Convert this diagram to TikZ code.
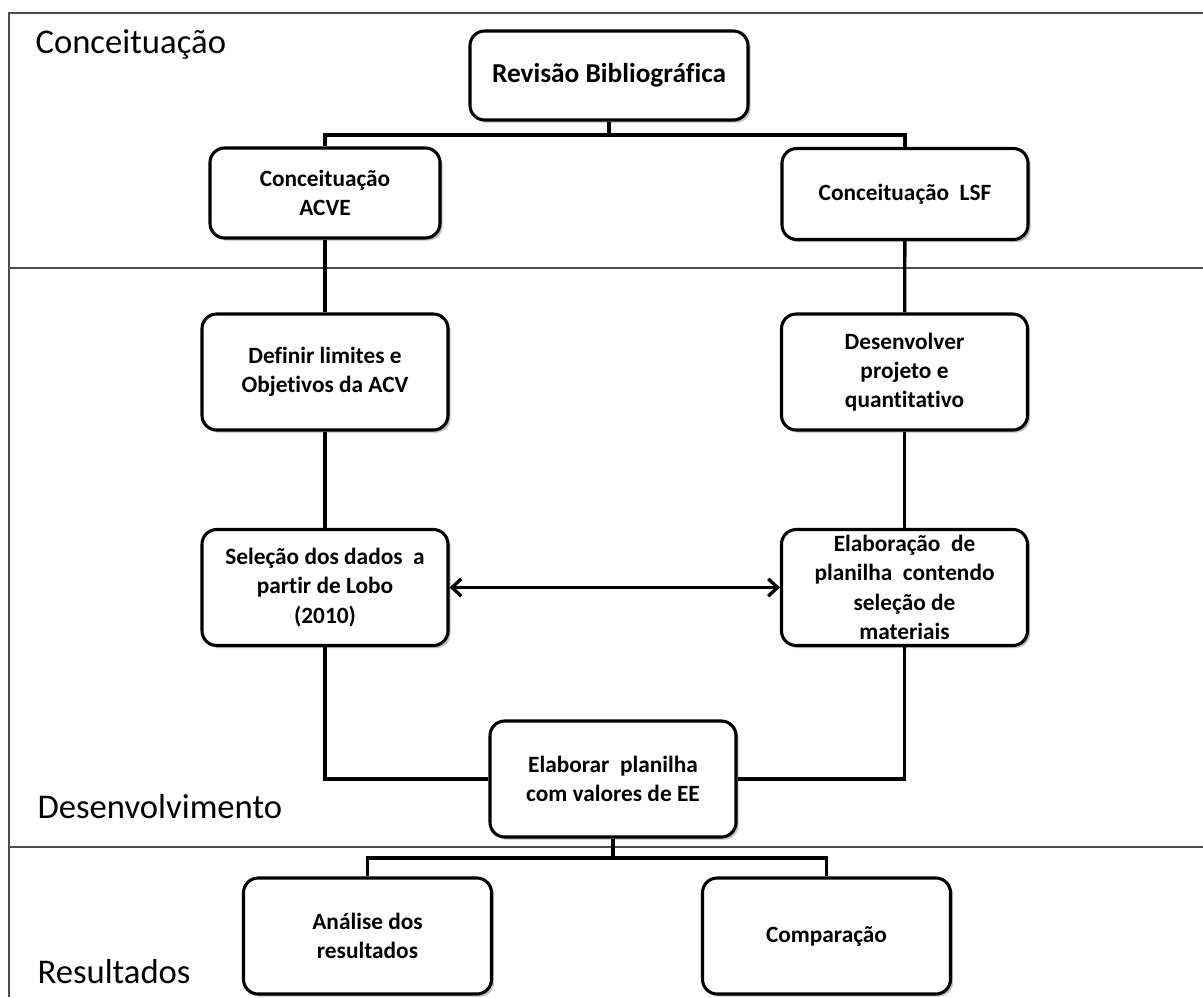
\documentclass[tikz,border=0pt]{standalone}
\usepackage{fontspec}
\setmainfont{Carlito}[Ligatures=NoCommon]
\usetikzlibrary{arrows.meta, positioning, shadows}

\begin{document}
\begin{tikzpicture}[x=0.75pt, y=-0.75pt, thick,
    etapa/.style={draw, line width=2.3pt, rounded corners=11pt, fill=white,
      align=center, inner sep=0pt, minimum width=184.5pt, minimum height=87pt,
      font=\bfseries\fontsize{17.5}{22}\selectfont,
      drop shadow={shadow xshift=2pt, shadow yshift=-2pt, fill=black, opacity=0.25}},
    liga/.style={line width=2.5pt},
    faixa/.style={line width=1.1pt, draw=black!70},
    fase/.style={anchor=base west, inner sep=0pt, font=\fontsize{26}{30}\selectfont}]
    \useasboundingbox (0,0) rectangle (1203,997);

    % Faixas das fases
    \draw[faixa] (1203,13) -- (9,13) -- (9,997);
    \draw[faixa] (9,268) -- (1203,268);
    \draw[faixa] (9,847) -- (1203,847);
    \node[fase] (lconc) at (35,53) {Conceituação};
    \node[fase] (ldes) at (37,818) {Desenvolvimento};
    \node[fase] (lres) at (37,983) {Resultados};

    % Etapas
    \node[etapa, minimum width=208.5pt, minimum height=66.75pt,
      font=\bfseries\fontsize{20.5}{24}\selectfont] (rev) at (609,75.5) {Revisão Bibliográfica};
    \node[etapa, minimum width=172.5pt, minimum height=67.5pt] (cacve) at (325,193) {Conceituação\\ACVE};
    \node[etapa, minimum height=68.25pt] (clsf) at (905,194) {Conceituação~ LSF};
    \node[etapa] (def) at (325,372) {Definir limites e\\Objetivos da ACV};
    \node[etapa] (des) at (904.5,372) {Desenvolver\\projeto e\\quantitativo};
    \node[etapa] (sel) at (325,587.5) {Seleção dos dados~ a\\partir de Lobo\\(2010)};
    \node[etapa] (ela) at (904.5,587.5) {Elaboração~ de\\planilha~ contendo\\seleção de\\materiais};
    \node[etapa] (ee) at (613,779) {Elaborar~ planilha\\com valores de EE};
    \node[etapa, minimum width=186pt] (ana) at (367.5,936) {Análise dos\\resultados};
    \node[etapa, minimum width=186pt] (com) at (826.5,936) {Comparação};

    % Ligacoes
    \coordinate (topo) at (609,135);
    \coordinate (base) at (613,858);
    \draw[liga] (rev) -- (topo);
    \draw[liga] (cacve.north) |- (topo) -| (clsf.north);
    \draw[liga] (cacve) -- (def);
    \draw[liga] (def) -- (sel);
    \draw[liga] (clsf) -- (des);
    \draw[liga] (des) -- (ela);
    \draw[liga] (sel.south) |- (ee.west);
    \draw[liga] (ela.south) |- (ee.east);
    \draw[liga, {Straight Barb[length=7pt,width=13pt]}-{Straight Barb[length=7pt,width=13pt]}] (sel) -- (ela);
    \draw[liga] (ee) -- (base);
    \draw[liga] (ana.north) |- (base) -| (com.north);
\end{tikzpicture}
\end{document}
